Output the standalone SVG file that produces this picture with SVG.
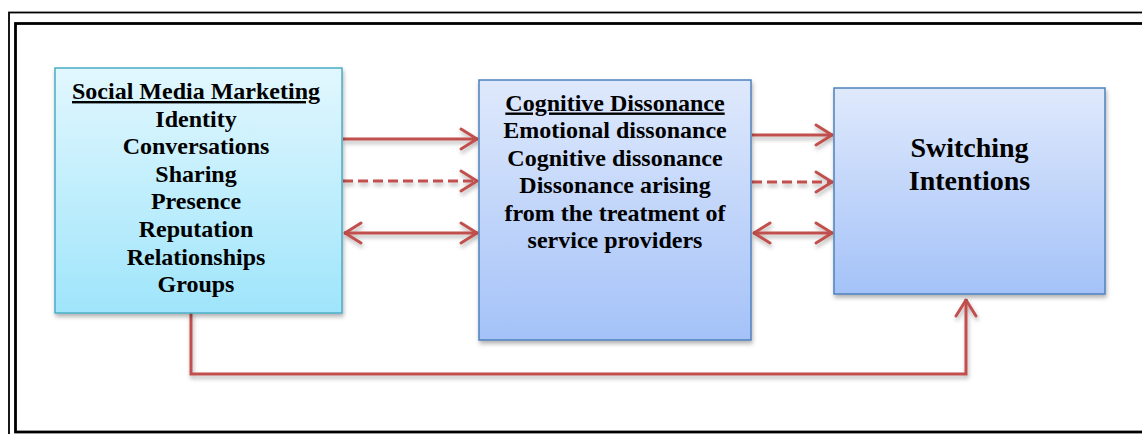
<svg xmlns="http://www.w3.org/2000/svg" width="1142" height="434" viewBox="0 0 1142 434">
  <style>
    .frame { fill: none; stroke: #000; }
    .lbl { font-family: "Liberation Serif", "Times New Roman", serif; font-weight: bold; font-size: 24px; fill: #000; text-anchor: middle; }
    .big { font-size: 28px; }
    .ul { text-decoration: underline; }
    .conn { fill: none; stroke: #c0504d; stroke-width: 3; }
    .dash { stroke-dasharray: 10 5; }
    .boxL { fill: url(#gradL); stroke: #4bacc6; stroke-width: 1.5; }
    .boxB { fill: url(#gradB); stroke: #4f81bd; stroke-width: 1.5; }
  </style>
  <defs>
    <linearGradient id="gradL" x1="0" y1="0" x2="0" y2="1">
      <stop offset="0" stop-color="#e2f7fe"/>
      <stop offset="1" stop-color="#9fe5fb"/>
    </linearGradient>
    <linearGradient id="gradB" x1="0" y1="0" x2="0" y2="1">
      <stop offset="0" stop-color="#dfe9fc"/>
      <stop offset="1" stop-color="#a4c2f8"/>
    </linearGradient>
    <filter id="shadow" x="-10%" y="-10%" width="130%" height="130%">
      <feDropShadow dx="1" dy="3" stdDeviation="2" flood-color="#000" flood-opacity="0.3"/>
    </filter>
    <marker id="arr" markerUnits="userSpaceOnUse" markerWidth="40" markerHeight="40" refX="0" refY="0" orient="auto-start-reverse" overflow="visible" viewBox="-20 -20 40 40">
      <path d="M-17,-10 L-1,0 L-17,10" fill="none" stroke="#c0504d" stroke-width="3" stroke-linejoin="round" stroke-linecap="round"/>
    </marker>
  </defs>

  <rect width="1142" height="434" fill="#fff"/>
  <!-- frame -->
  <rect class="frame" x="9" y="12.5" width="1200" height="500" stroke-width="1.8"/>
  <rect class="frame" x="15.5" y="23.5" width="1200" height="408.5" stroke-width="2.8"/>

  <!-- connectors -->
  <g id="connectors" filter="url(#shadow)">
    <line class="conn" x1="343" y1="139" x2="478" y2="139" marker-end="url(#arr)"/>
    <line class="conn dash" x1="343" y1="181" x2="478" y2="181" marker-end="url(#arr)"/>
    <line class="conn" x1="344" y1="233" x2="478" y2="233" marker-start="url(#arr)" marker-end="url(#arr)"/>
    <line class="conn" x1="752" y1="135" x2="833" y2="135" marker-end="url(#arr)"/>
    <line class="conn dash" x1="752" y1="182" x2="833" y2="182" marker-end="url(#arr)"/>
    <line class="conn" x1="753" y1="233" x2="833" y2="233" marker-start="url(#arr)" marker-end="url(#arr)"/>
    <path class="conn" d="M191,313 V374 H966 V299" marker-end="url(#arr)"/>
  </g>

  <!-- nodes -->
  <g id="social-media-marketing">
    <rect class="boxL" x="55" y="68" width="287" height="245" filter="url(#shadow)"/>
    <text class="lbl ul" x="196" y="99">Social Media Marketing</text>
    <text class="lbl" x="196" y="126.6">Identity</text>
    <text class="lbl" x="196" y="154.2">Conversations</text>
    <text class="lbl" x="196" y="181.8">Sharing</text>
    <text class="lbl" x="196" y="209.4">Presence</text>
    <text class="lbl" x="196" y="237">Reputation</text>
    <text class="lbl" x="196" y="264.6">Relationships</text>
    <text class="lbl" x="196" y="292.2">Groups</text>
  </g>

  <g id="cognitive-dissonance">
    <rect class="boxB" x="479" y="80" width="272" height="260" filter="url(#shadow)"/>
    <text class="lbl ul" x="615" y="110.5">Cognitive Dissonance</text>
    <text class="lbl" x="615" y="138">Emotional dissonance</text>
    <text class="lbl" x="615" y="165.5">Cognitive dissonance</text>
    <text class="lbl" x="615" y="193">Dissonance arising</text>
    <text class="lbl" x="615" y="220.5">from the treatment of</text>
    <text class="lbl" x="615" y="248">service providers</text>
  </g>

  <g id="switching-intentions">
    <rect class="boxB" x="834" y="88" width="271" height="206" filter="url(#shadow)"/>
    <text class="lbl big" x="969.5" y="157">Switching</text>
    <text class="lbl big" x="969.5" y="190">Intentions</text>
  </g>
</svg>
